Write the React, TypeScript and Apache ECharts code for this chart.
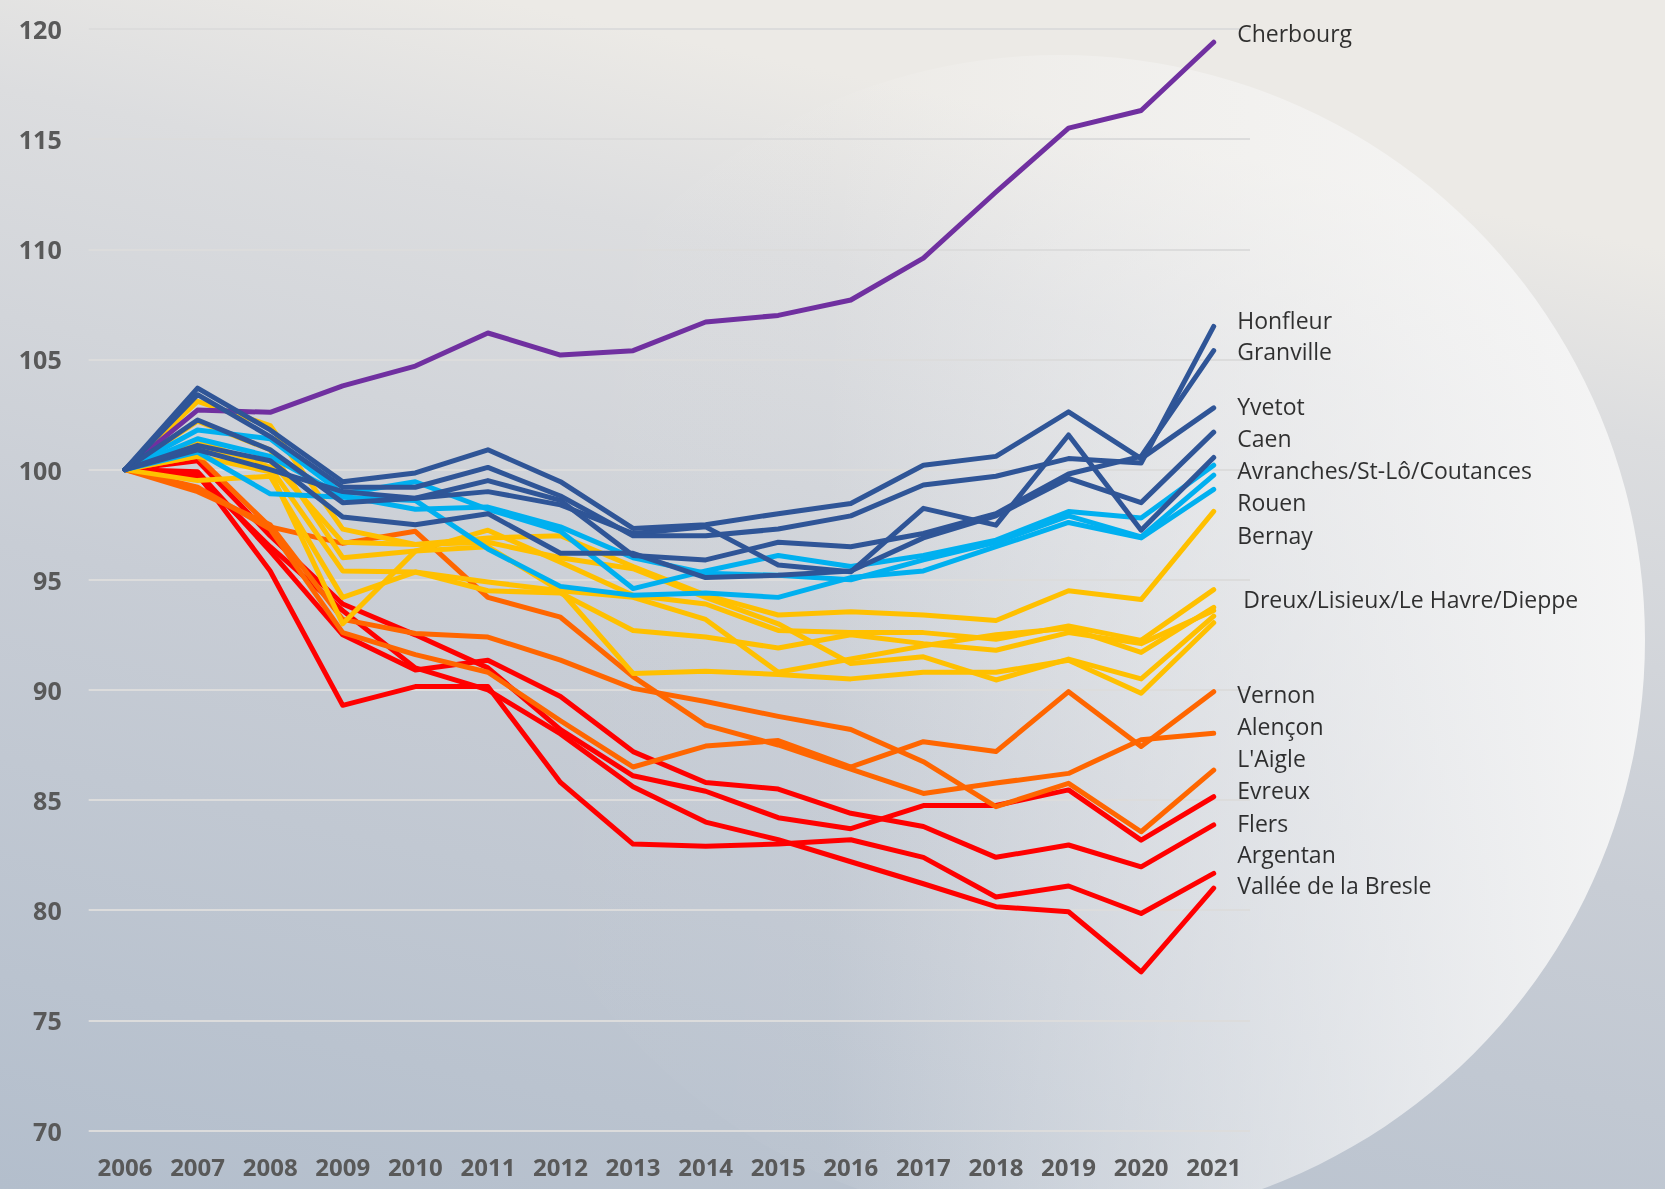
import React, { useEffect, useRef } from 'react';
import * as echarts from 'echarts';

const years = ['2006','2007','2008','2009','2010','2011','2012','2013','2014','2015','2016','2017','2018','2019','2020','2021'];

// Purple
const cherbourg = [100, 102.7, 102.6, 103.8, 104.7, 106.2, 105.2, 105.4, 106.7, 107.0, 107.7, 109.6, 112.6, 115.5, 116.3, 119.4];
// Dark blue
const yvetot = [100, 103.7, 101.8, 99.45, 99.85, 100.9, 99.45, 97.33, 97.5, 98.0, 98.46, 100.2, 100.6, 102.62, 100.5, 102.8];
const honfleur = [100, 103.4, 101.5, 99.2, 99.2, 100.1, 98.8, 97.0, 97.0, 97.3, 97.9, 99.3, 99.7, 100.5, 100.3, 106.5];
const granville = [100, 102.25, 100.9, 98.5, 98.7, 99.5, 98.6, 96.1, 95.9, 96.7, 96.5, 97.1, 98.0, 99.8, 100.6, 105.4];
const caen = [100, 101.1, 100.4, 97.85, 97.5, 98.0, 96.2, 96.2, 95.1, 95.2, 95.4, 96.9, 97.9, 99.6, 98.5, 101.7];
const avranches = [100, 100.9, 100.0, 99.0, 98.7, 99.0, 98.4, 97.1, 97.4, 95.67, 95.36, 98.24, 97.48, 101.57, 97.25, 100.55];
// Light blue
const stLo = [100, 101.8, 101.4, 98.9, 99.45, 98.2, 97.2, 94.6, 95.4, 96.1, 95.6, 96.1, 96.8, 98.1, 97.8, 100.2];
const coutances = [100, 101.4, 100.6, 98.8, 98.2, 98.3, 97.4, 96.0, 95.3, 95.2, 95.0, 95.9, 96.7, 97.9, 96.95, 99.75];
const rouen = [100, 100.8, 98.9, 98.75, 98.6, 96.4, 94.7, 94.3, 94.4, 94.2, 95.1, 95.4, 96.5, 97.6, 96.9, 99.1];
// Yellow
const bernay = [100, 103.1, 102.0, 97.3, 96.6, 96.9, 97.0, 95.6, 94.3, 93.4, 93.55, 93.4, 93.15, 94.5, 94.1, 98.1];
const dreux = [100, 102.2, 100.9, 96.0, 96.3, 97.25, 95.8, 94.3, 93.9, 92.7, 92.6, 92.6, 92.3, 92.9, 92.25, 94.55];
const lisieux = [100, 100.6, 99.9, 93.0, 96.3, 96.5, 94.5, 90.75, 90.85, 90.7, 90.5, 90.8, 90.8, 91.35, 89.85, 93.05];
const leHavre = [100, 101.3, 100.1, 95.4, 95.35, 94.9, 94.5, 94.2, 93.2, 90.8, 91.4, 92.0, 92.5, 92.8, 91.7, 93.75];
const dieppe = [100, 99.5, 99.7, 94.2, 95.35, 94.5, 94.4, 92.7, 92.4, 91.9, 92.5, 92.1, 91.8, 92.6, 92.1, 93.6];
const autreJaune = [100, 101.0, 100.4, 96.7, 96.6, 96.7, 96.0, 95.5, 94.2, 93.0, 91.2, 91.5, 90.45, 91.4, 90.5, 93.35];
// Orange
const vernon = [100, 99.2, 97.3, 92.6, 91.6, 90.8, 88.6, 86.5, 87.45, 87.7, 86.5, 87.65, 87.2, 89.92, 87.43, 89.92];
const alencon = [100, 100.6, 97.4, 96.65, 97.2, 94.2, 93.3, 90.6, 88.4, 87.5, 86.4, 85.3, 85.77, 86.21, 87.74, 88.03];
const laigle = [100, 99.0, 97.5, 93.2, 92.56, 92.4, 91.35, 90.07, 89.47, 88.8, 88.2, 86.74, 84.7, 85.76, 83.56, 86.36];
// Red
const evreux = [100, 100.4, 97.0, 93.9, 92.5, 91.0, 88.2, 86.1, 85.4, 84.2, 83.7, 84.75, 84.75, 85.46, 83.18, 85.15];
const flers = [100, 99.9, 96.3, 92.5, 90.9, 91.35, 89.7, 87.2, 85.8, 85.5, 84.4, 83.8, 82.4, 82.96, 81.97, 83.87];
const argentan = [100, 99.8, 95.4, 89.3, 90.15, 90.15, 85.8, 83.0, 82.9, 83.0, 83.2, 82.4, 80.6, 81.1, 79.85, 81.67];
const valleeBresle = [100, 99.7, 96.5, 93.6, 91.0, 90.0, 88.0, 85.6, 84.0, 83.2, 82.2, 81.2, 80.16, 79.93, 77.2, 81.0];

// Right-hand labels and the value at which each sits
const labelNames = ['Cherbourg', 'Honfleur', 'Granville', 'Yvetot', 'Caen', 'Avranches/St-Lô/Coutances', 'Rouen', 'Bernay', 'Dreux/Lisieux/Le Havre/Dieppe', 'Vernon', 'Alençon', "L'Aigle", 'Evreux', 'Flers', 'Argentan', 'Vallée de la Bresle'];
const labelValues = [119.82, 106.78, 105.38, 102.9, 101.43, 99.98, 98.53, 97.05, 94.12, 89.83, 88.36, 86.91, 85.46, 83.98, 82.53, 81.13];

const PURPLE = '#7030A0';
const DBLUE = '#2F5597';
const LBLUE = '#00B0F0';
const YELLOW = '#FFC000';
const ORANGE = '#FF6600';
const RED = '#FF0000';

const lines = [
  { name: 'Vallée de la Bresle', color: RED, data: valleeBresle },
  { name: 'Argentan', color: RED, data: argentan },
  { name: 'Flers', color: RED, data: flers },
  { name: 'Evreux', color: RED, data: evreux },
  { name: "L'Aigle", color: ORANGE, data: laigle },
  { name: 'Alençon', color: ORANGE, data: alencon },
  { name: 'Vernon', color: ORANGE, data: vernon },
  { name: 'Autre', color: YELLOW, data: autreJaune },
  { name: 'Dieppe', color: YELLOW, data: dieppe },
  { name: 'Le Havre', color: YELLOW, data: leHavre },
  { name: 'Lisieux', color: YELLOW, data: lisieux },
  { name: 'Dreux', color: YELLOW, data: dreux },
  { name: 'Bernay', color: YELLOW, data: bernay },
  { name: 'Rouen', color: LBLUE, data: rouen },
  { name: 'Coutances', color: LBLUE, data: coutances },
  { name: 'St-Lô', color: LBLUE, data: stLo },
  { name: 'Cherbourg', color: PURPLE, data: cherbourg },
  { name: 'Avranches', color: DBLUE, data: avranches },
  { name: 'Caen', color: DBLUE, data: caen },
  { name: 'Granville', color: DBLUE, data: granville },
  { name: 'Honfleur', color: DBLUE, data: honfleur },
  { name: 'Yvetot', color: DBLUE, data: yvetot },
];

const W = 1665;
const H = 1189;

export default function App() {
  const ref = useRef<HTMLDivElement>(null);
  useEffect(() => {
    if (!ref.current) return;
    const chart = echarts.init(ref.current, null, { renderer: 'svg' });
    const series: any[] = lines.map((l) => ({
      type: 'line',
      name: l.name,
      data: l.data,
      symbol: 'none',
      silent: true,
      lineStyle: { width: 5, color: l.color, cap: 'round', join: 'round' },
      itemStyle: { color: l.color },
      emphasis: { disabled: true },
    }));
    series.push({
      type: 'scatter',
      name: 'labels',
      silent: true,
      symbolSize: 1,
      clip: false,
      itemStyle: { color: 'rgba(0,0,0,0)' },
      data: labelNames.map((n, i) => ({
        name: n,
        value: ['2021', labelValues[i]],
        label: n.startsWith('Dreux') ? { distance: 29 } : undefined,
      })),
      label: {
        show: true,
        position: 'right',
        distance: 23,
        formatter: '{b}',
        fontSize: 23,
        color: '#000000',
        fontFamily: 'Open Sans',
      },
      z: 5,
    });
    chart.setOption({
      animation: false,
      backgroundColor: 'transparent',
      graphic: [
        {
          type: 'rect',
          z: -20,
          silent: true,
          shape: { x: 0, y: 0, width: W, height: H },
          style: {
            fill: new echarts.graphic.LinearGradient(0, 1, 0.3, 0, [
              { offset: 0, color: '#B3BECC' },
              { offset: 0.5, color: '#C8CDD5' },
              { offset: 0.85, color: '#DCDDDF' },
              { offset: 1, color: '#ECEAE6' },
            ]),
          },
        },
        {
          type: 'circle',
          z: -19,
          silent: true,
          shape: { cx: 1060, cy: 640, r: 585 },
          style: {
            fill: new echarts.graphic.LinearGradient(0, 0, 1, 0, [
              { offset: 0, color: 'rgba(255,255,255,0)' },
              { offset: 0.3, color: 'rgba(250,250,250,0.03)' },
              { offset: 0.62, color: 'rgba(248,248,248,0.45)' },
              { offset: 1, color: 'rgba(246,246,246,0.95)' },
            ]),
          },
        },
      ],
      grid: { left: 88.7, right: W - 1250, top: 29, bottom: H - 1130.5 },
      xAxis: {
        type: 'category',
        data: years,
        boundaryGap: true,
        axisLine: { show: false },
        axisTick: { show: false },
        axisLabel: { margin: 24, fontSize: 24, fontWeight: 'bold', color: '#595959', fontFamily: 'Open Sans' },
      },
      yAxis: {
        type: 'value',
        min: 70,
        max: 120,
        interval: 5,
        axisLine: { show: false },
        axisTick: { show: false },
        axisLabel: { margin: 27, fontSize: 25, fontWeight: 'bold', color: '#595959', fontFamily: 'Open Sans' },
        splitLine: { lineStyle: { color: '#DCDCDC', width: 2 } },
      },
      series,
    });
    return () => chart.dispose();
  }, []);
  return <div ref={ref} style={{ position: 'fixed', left: 0, top: 0, width: W, height: H }} />;
}
